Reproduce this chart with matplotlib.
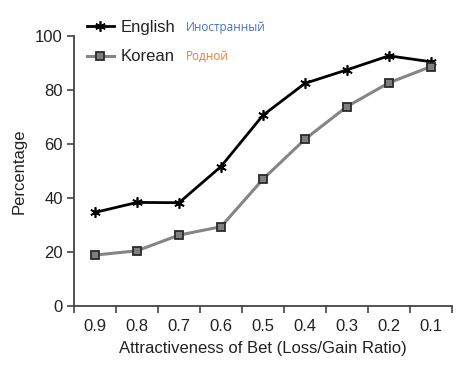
import matplotlib
matplotlib.use("Agg")
import matplotlib.pyplot as plt

categories = ["0.9", "0.8", "0.7", "0.6", "0.5", "0.4", "0.3", "0.2", "0.1"]
english = [34.8, 38.5, 38.4, 51.8, 70.8, 82.6, 87.6, 92.8, 90.6]
korean = [19.0, 20.6, 26.4, 29.5, 47.1, 61.9, 74.0, 82.8, 88.8]
series_names = ["English", "Korean"]
annotations = ["Иностранный", "Родной"]

plt.rcParams['font.family'] = ['Liberation Sans', 'DejaVu Sans']

fig = plt.figure(figsize=(4.63, 3.75), dpi=100)
ax = fig.add_axes([0.160, 0.183, 0.816, 0.720])

x = list(range(len(categories)))
ax.plot(x, english, color='black', lw=2, marker=(6, 2, 0), ms=7.5, mew=1.2,
        mec='black', label=series_names[0], zorder=3)
ax.plot(x, korean, color='#858585', lw=2.2, marker='s', ms=5.5, mew=1.3,
        mfc='#7f7f7f', mec='#2b2b2b', label=series_names[1], zorder=3)

ax.set_xlim(-0.5, len(categories) - 0.5)
ax.set_ylim(0, 100)
ax.set_yticks([0, 20, 40, 60, 80, 100])
ax.set_xticks([i - 0.5 for i in range(len(categories) + 1)])
ax.set_xticklabels([])
ax.set_xticks(x, minor=True)
ax.set_xticklabels(categories, minor=True)
ax.tick_params(axis='x', which='minor', length=0, pad=9, labelsize=12, colors='#222222')
ax.tick_params(axis='x', which='major', length=5, width=1.2, color='#444444')
ax.tick_params(axis='y', length=5, width=1.2, color='#444444', labelsize=12, pad=3,
               labelcolor='#222222')
for s in ['top', 'right']:
    ax.spines[s].set_visible(False)
for s in ['left', 'bottom']:
    ax.spines[s].set_linewidth(1.3)
    ax.spines[s].set_color('#444444')

ax.set_ylabel('Percentage', fontsize=12, color='#222222', labelpad=6)
ax.set_xlabel('Attractiveness of Bet (Loss/Gain Ratio)', fontsize=12, color='#222222', labelpad=5)

leg = fig.legend(loc='upper left', bbox_to_anchor=(0.188, 0.946), frameon=False,
                 fontsize=12, numpoints=1, handlelength=1.6, handletextpad=0.4,
                 labelspacing=0.85, borderaxespad=0, borderpad=0)
for t in leg.get_texts():
    t.set_color('#222222')

fig.text(0.402, 0.928, annotations[0], fontsize=8.5, color='#4472C4',
         family=['Open Sans', 'DejaVu Sans'], va='center')
fig.text(0.402, 0.851, annotations[1], fontsize=8.5, color='#ED7D31',
         family=['Open Sans', 'DejaVu Sans'], va='center')

fig.savefig('out.png', dpi=100)
